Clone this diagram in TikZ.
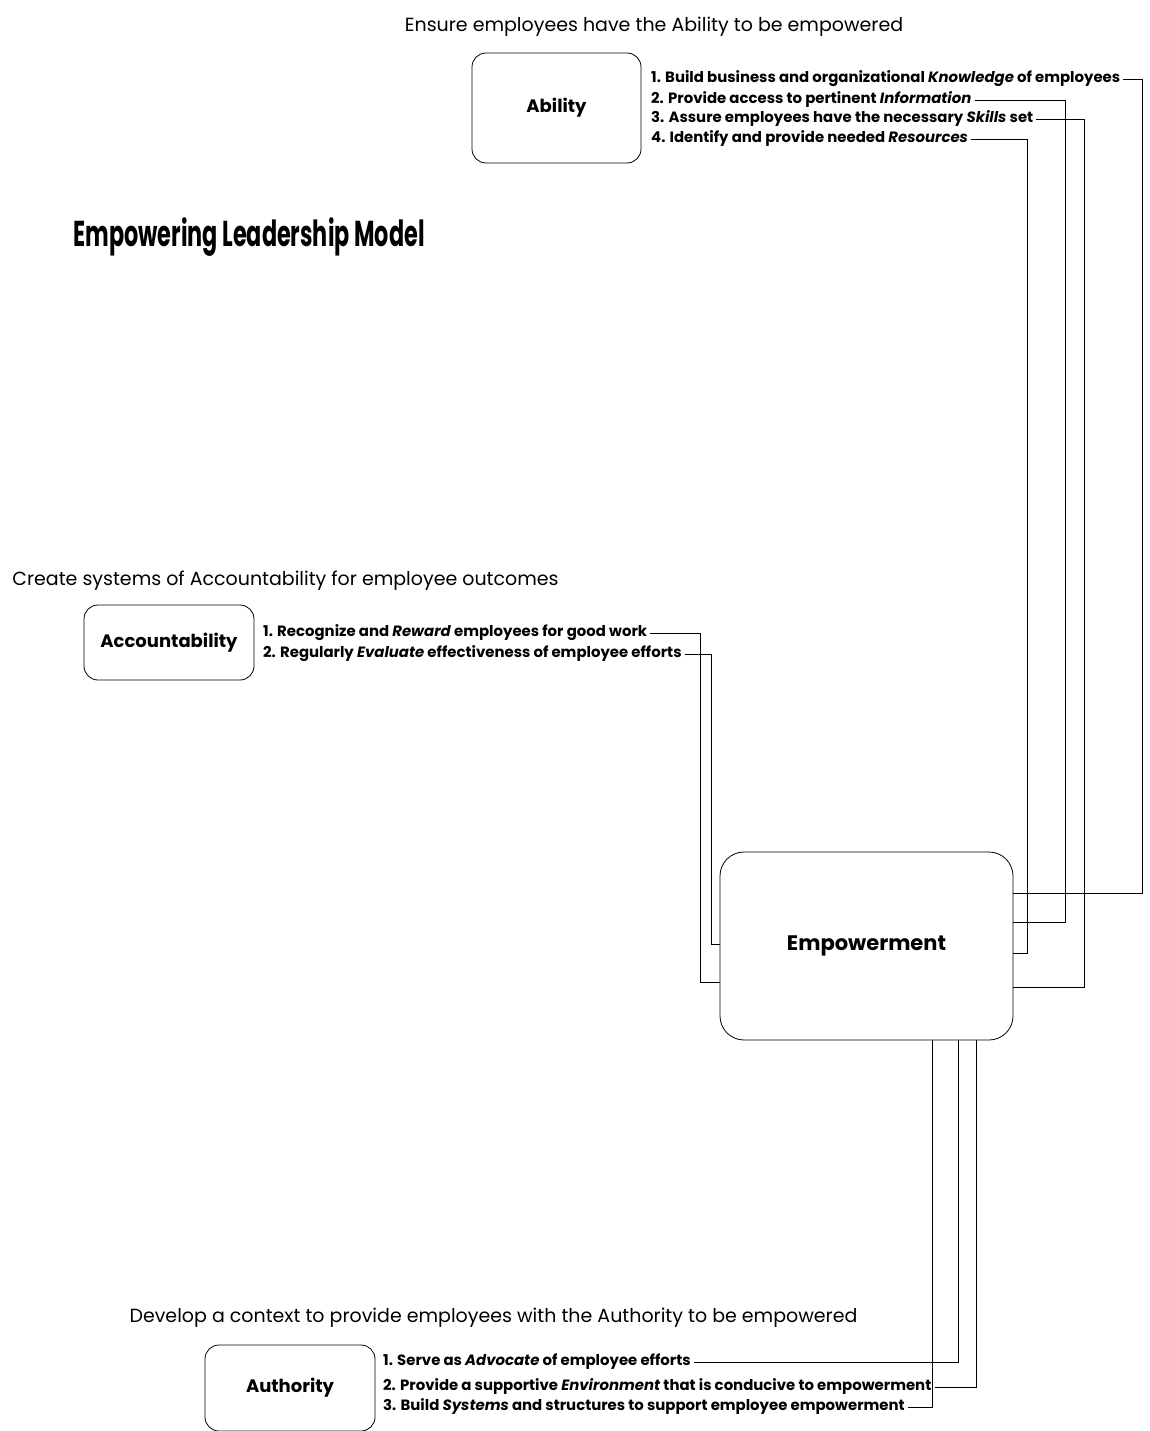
\documentclass[tikz,border=0pt]{standalone}
\usepackage{fontspec}
\setmainfont{Poppins}
\newfontfamily\titlefont[FakeStretch=0.62]{Poppins}
\usetikzlibrary{positioning}

\begin{document}
\begin{tikzpicture}[x=1pt,y=-1pt,
  box/.style={draw=black,line width=0.8pt,rounded corners=14pt,inner sep=0pt,font=\bfseries\fontsize{18}{21}\selectfont},
  caption/.style={inner sep=0pt,font=\fontsize{19}{23}\selectfont},
  item/.style={anchor=west,inner xsep=3pt,inner ysep=0pt,text height=11pt,text depth=3.5pt,font=\bfseries\fontsize{14.9}{17}\selectfont},
  link/.style={draw=black,line width=0.7pt}]
  \useasboundingbox (0,0) rectangle (1149,1431);

  \node[inner sep=0pt,font=\titlefont\bfseries\fontsize{36}{40}\selectfont] (title) at (249,237) {Empowering Leadership Model};

  % Ability
  \node[caption] (abcap) at (654,27) {Ensure employees have the Ability to be empowered};
  \node[box,minimum width=169pt,minimum height=110pt] (ability) at (556.5,108) {Ability};
  \node[item] (know) at (648,79) {1. Build business and organizational \textit{Knowledge} of employees};
  \node[item] (info) at (648,100) {2. Provide access to pertinent \textit{Information}};
  \node[item] (skill) at (648,119) {3. Assure employees have the necessary \textit{Skills} set};
  \node[item] (res) at (648,139) {4. Identify and provide needed \textit{Resources}};

  % Accountability
  \node[caption] (accap) at (285.5,581) {Create systems of Accountability for employee outcomes};
  \node[box,minimum width=170pt,minimum height=75pt] (account) at (169,642.5) {Accountability};
  \node[item] (reward) at (260,633) {1. Recognize and \textit{Reward} employees for good work};
  \node[item] (eval) at (260,654) {2. Regularly \textit{Evaluate} effectiveness of employee efforts};

  % Empowerment
  \node[box,rounded corners=24pt,minimum width=293pt,minimum height=188pt,font=\bfseries\fontsize{21}{24}\selectfont] (emp) at (866.5,946) {Empowerment};

  % Authority
  \node[caption] (aucap) at (493.5,1318) {Develop a context to provide employees with the Authority to be empowered};
  \node[box,minimum width=170pt,minimum height=86pt] (authority) at (290,1388) {Authority};
  \node[item] (advoc) at (380,1362) {1. Serve as \textit{Advocate} of employee efforts};
  \node[item] (env) at (380,1387) {2. Provide a supportive \textit{Environment} that is conducive to empowerment};
  \node[item] (sys) at (380,1407) {3. Build \textit{Systems} and structures to support employee empowerment};

  \coordinate (tknow) at (1142,893);
  \coordinate (tinfo) at (1065,922);
  \coordinate (tskill) at (1084,987);
  \coordinate (tres) at (1027,953);
  \coordinate (treward) at (700,982);
  \coordinate (teval) at (711,944);
  \coordinate (tadvoc) at (958,1362);
  \coordinate (tenv) at (976,1387);
  \coordinate (tsys) at (932,1407);

  \draw[link] (know.east) -| (tknow) -- (tknow -| emp.east);
  \draw[link] (info.east) -| (tinfo) -- (tinfo -| emp.east);
  \draw[link] (skill.east) -| (tskill) -- (tskill -| emp.east);
  \draw[link] (res.east) -| (tres) -- (tres -| emp.east);
  \draw[link] (reward.east) -| (treward) -- (treward -| emp.west);
  \draw[link] (eval.east) -| (teval) -- (teval -| emp.west);
  \draw[link] (advoc.east) -- (tadvoc) -- (tadvoc |- emp.south);
  \draw[link] (env.east) -- (tenv) -- (tenv |- emp.south);
  \draw[link] (sys.east) -- (tsys) -- (tsys |- emp.south);
\end{tikzpicture}
\end{document}
